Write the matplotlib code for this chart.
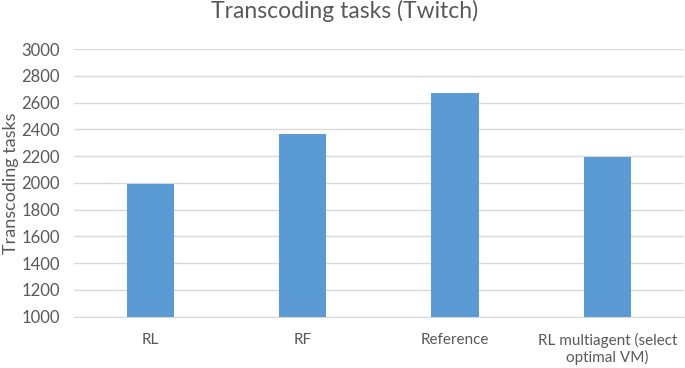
import matplotlib.pyplot as plt

# 資料
categories = ["RL", "RF", "Reference", "RL multiagent (select\noptimal VM)"]
values = [1990, 2367, 2673, 2195]
yticks = list(range(1000, 3001, 200))

plt.rcParams['font.family'] = ['Lato', 'DejaVu Sans']
text_color = "#595959"

fig = plt.figure(figsize=(6.85, 3.68), dpi=100)
ax = fig.add_axes([0.108, 0.1394, 0.89, 0.7274])

x = range(len(categories))
ax.bar(x, values, width=0.31, color="#5B9BD5", zorder=3)

ax.set_xlim(-0.5, len(categories) - 0.5)
ax.set_ylim(1000, 3000)
ax.set_yticks(yticks)
ax.set_xticks(list(x))
ax.set_xticklabels(categories, fontsize=11, color=text_color, linespacing=1.1)
ax.tick_params(axis="y", labelsize=12, labelcolor=text_color, length=0, pad=10)
ax.tick_params(axis="x", length=0, pad=12)

# 格線
ax.grid(axis="y", color="#D9D9D9", linewidth=1, zorder=0)
for s in ["top", "right", "left"]:
    ax.spines[s].set_visible(False)
ax.spines["bottom"].set_color("#D9D9D9")

ax.set_ylabel("Transcoding tasks", fontsize=13, color=text_color, labelpad=2)
fig.suptitle("Transcoding tasks (Twitch)", fontsize=16.5, color=text_color, x=0.503, y=1.0)

fig.savefig("out.png", dpi=100)
